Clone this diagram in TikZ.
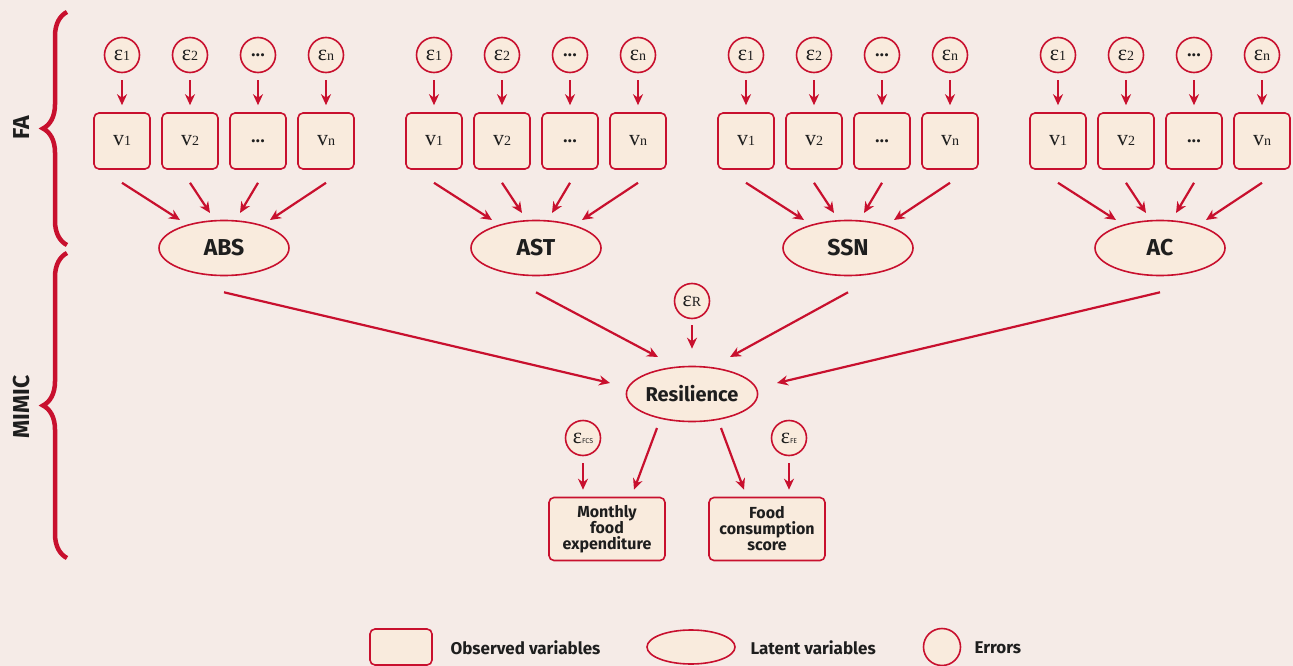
\documentclass[tikz,border=0pt]{standalone}
\usepackage{fontspec}
\setmainfont{Fira Sans}
\newfontfamily\grkfont{Liberation Serif}
\usepackage{tikz}
\usetikzlibrary{arrows.meta,calc,positioning,shapes.geometric,decorations.pathreplacing}
\definecolor{bgrose}{HTML}{F5EBE7}
\definecolor{boxcream}{HTML}{F9EBDD}
\definecolor{semred}{HTML}{C8102E}
\definecolor{inkdark}{HTML}{1E1E1E}

\newcommand{\eps}[2][14]{{\grkfont\fontsize{22}{22}\selectfont ε{\fontsize{#1}{#1}\selectfont #2}}}
\newcommand{\obsv}[1]{{\grkfont\fontsize{22}{22}\selectfont v{\fontsize{14}{14}\selectfont #1}}}
\newcommand{\etc}{{\bfseries\fontsize{17}{17}\selectfont .\kern0.5pt.\kern0.5pt.}}

\begin{document}
\begin{tikzpicture}[x=1pt,y=-1pt,
    err/.style={circle, draw=semred, fill=boxcream, line width=1.6pt,
        minimum size=35pt, inner sep=0pt, text=inkdark},
    obs/.style={rectangle, rounded corners=5pt, draw=semred, fill=boxcream,
        line width=1.6pt, minimum width=56pt, minimum height=56pt, inner sep=0pt,
        text=inkdark},
    latent/.style={ellipse, draw=semred, fill=boxcream, line width=1.6pt,
        minimum width=130pt, minimum height=55pt, inner sep=0pt, text=inkdark,
        font=\bfseries\fontsize{23}{23}\selectfont},
    outcome/.style={obs, minimum width=116pt, minimum height=63pt, align=center,
        font=\bfseries\fontsize{16}{16}\selectfont},
    arr/.style={-{Stealth[length=11pt,width=10pt]}, semred, line width=2.2pt},
    curly/.style={semred, line width=4.5pt, decorate,
        decoration={brace, amplitude=24pt}},
    sidelabel/.style={rotate=90, text=inkdark, font=\bfseries\fontsize{23}{23}\selectfont},
    keytext/.style={anchor=west, text=inkdark, font=\bfseries\fontsize{17}{17}\selectfont}]

    \fill[bgrose] (0,0) rectangle (1293,666);
    \useasboundingbox (0,0) rectangle (1293,666);

    % braces on the left
    \draw[curly] (67,245) -- (67,12);
    \draw[curly] (67,558) -- (67,253);
    \node[sidelabel] (fa) at (22,128) {FA};
    \node[sidelabel] (mimic) at (22,407) {MIMIC};

    % structural part
    \node[latent, font=\bfseries\fontsize{20}{20}\selectfont] (res) at (692,394) {Resilience};
    \node[err] (er) at (692,301) {\eps{R}};
    \draw[arr, shorten <=6pt, shorten >=17pt] (er) -- (res);

    % measurement blocks
    \foreach \g/\lab/\rx/\ry [count=\k from 0] in
        {abs/ABS/-82/-11, ast/AST/-34/-37, ssn/SSN/38/-37, ac/AC/85/-11} {
        \pgfmathsetmacro\cx{224+312*\k}
        \node[latent] (\g) at (\cx,248) {\lab};
        \foreach \dx/\elab/\vlab/\tx/\ty [count=\j] in
            {-102/{\eps{1}}/{\obsv{1}}/-44/-28,
             -34/{\eps{2}}/{\obsv{2}}/-14/-35,
             34/{\etc}/{\etc}/16/-35,
             102/{\eps{n}}/{\obsv{n}}/46/-28} {
            \node[err] (\g-e\j) at (\cx+\dx,55) {\elab};
            \node[obs] (\g-v\j) at (\cx+\dx,141) {\vlab};
            \draw[arr, shorten <=7pt, shorten >=7pt] (\g-e\j) -- (\g-v\j);
            \draw[arr] ($(\g-v\j.south)+(0,13)$) -- ($(\g)+(\tx,\ty)$);
        }
        \draw[arr] ($(\g.south)+(0,16)$) -- ($(res)+(\rx,\ry)$);
    }

    % indicators of resilience
    \node[outcome] (mfe) at (607,529) {Monthly\\food\\expenditure};
    \node[outcome] (fcs) at (767,529) {Food\\consumption\\score};
    \node[err] (efcs) at (583,438) {\eps[7]{\normalfont FCS}};
    \node[err] (efe) at (789,438) {\eps[7]{\normalfont FE}};
    \draw[arr, shorten <=7pt, shorten >=7pt] (efcs) -- (efcs |- mfe.north);
    \draw[arr, shorten <=7pt, shorten >=7pt] (efe) -- (efe |- fcs.north);
    \draw[arr] ($(res)+(-35,34)$) -- ($(mfe.north)+(27,-7)$);
    \draw[arr] ($(res)+(29,34)$) -- ($(fcs.north)+(-23,-7)$);

    % legend
    \node[obs, minimum width=62pt, minimum height=36pt] (kobs) at (401,647) {};
    \node[keytext] (kobst) at (447,648) {Observed variables};
    \node[latent, minimum width=88pt, minimum height=34pt] (klat) at (691,647) {};
    \node[keytext] (klatt) at (747,648) {Latent variables};
    \node[err, minimum size=37pt] (kerr) at (942,647) {};
    \node[keytext] (kerrt) at (971,648) {Errors};
\end{tikzpicture}
\end{document}
